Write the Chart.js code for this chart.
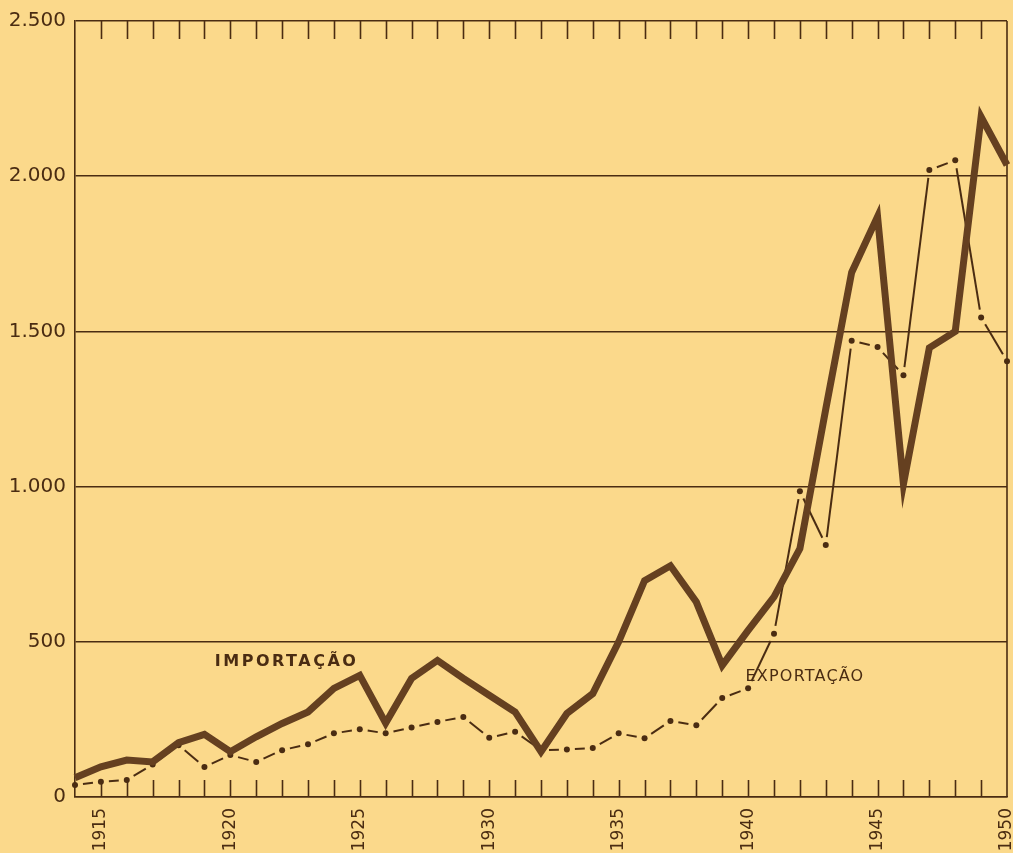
<!DOCTYPE html>
<html>
<head>
<meta charset="utf-8">
<script src="https://cdn.jsdelivr.net/npm/chart.js@4"></script>
<style>
  html, body { margin: 0; padding: 0; background: #fbd98b; }
  #wrap { position: relative; width: 1013px; height: 853px; }
</style>
</head>
<body>
<div id="wrap"><canvas id="c"></canvas></div>
<script>
// Importação x Exportação, 1914–1950
const YEARS = ["1914","1915","1916","1917","1918","1919","1920","1921","1922","1923",
  "1924","1925","1926","1927","1928","1929","1930","1931","1932","1933",
  "1934","1935","1936","1937","1938","1939","1940","1941","1942","1943",
  "1944","1945","1946","1947","1948","1949","1950"]
const IMPORTACAO = [62, 97, 119, 113, 175, 202, 146, 194, 237, 274,
  350, 392, 238, 382, 440, 382, 328, 274, 146, 269,
  333, 500, 697, 745, 628, 424, 537, 645, 800, 1250,
  1690, 1870, 1008, 1447, 1500, 2191, 2036]
const EXPORTACAO = [39, 49, 55, 105, 167, 97, 135, 113, 151, 170,
  205, 218, 205, 224, 242, 258, 191, 210, 151, 153,
  158, 205, 189, 245, 231, 319, 350, 526, 985, 812,
  1470, 1450, 1359, 2020, 2051, 1545, 1404]
const X_TICKS = ["1915","1920","1925","1930","1935","1940","1945","1950"]
const Y_TICKS = { 0: "0", 500: "500", 1000: "1.000", 1500: "1.500", 2000: "2.000", 2500: "2.500" }

const INK = "#4a2c12"
const LINE = "#654020"
const FONT = "'DejaVu Sans', sans-serif"

// marcas internas (em cima e em baixo) + borda direita + rótulos das séries
const frame = {
  id: "frame",
  beforeDatasetsDraw(chart) {
    const { ctx, chartArea: a, scales } = chart
    ctx.save()
    ctx.strokeStyle = INK
    ctx.lineWidth = 1.6
    ctx.beginPath()
    YEARS.forEach((_, i) => {
      if (i === 0 || i === YEARS.length - 1) return
      const x = Math.round(scales.x.getPixelForValue(i)) + 0.5
      ctx.moveTo(x, a.top); ctx.lineTo(x, a.top + 18)
      ctx.moveTo(x, a.bottom); ctx.lineTo(x, a.bottom - 17)
    })
    ctx.moveTo(a.right, a.top); ctx.lineTo(a.right, a.bottom)
    ctx.stroke()
    ctx.restore()
  },
  afterDatasetsDraw(chart) {
    const { ctx, scales } = chart
    ctx.save()
    ctx.fillStyle = INK
    ctx.textBaseline = "middle"
    ctx.font = `bold 16px ${FONT}`
    ctx.letterSpacing = "2.5px"
    ctx.fillText("IMPORTAÇÃO", scales.x.getPixelForValue(5.4), scales.y.getPixelForValue(434))
    ctx.font = `16px ${FONT}`
    ctx.letterSpacing = "1.2px"
    ctx.fillText("EXPORTAÇÃO", scales.x.getPixelForValue(25.9), scales.y.getPixelForValue(386))
    ctx.restore()
  },
}

// traço centrado entre os pontos (ponto – intervalo – traço – intervalo – ponto)
const GAP = 8
const segLen = (c) => Math.hypot(c.p1.x - c.p0.x, c.p1.y - c.p0.y)

new Chart(document.getElementById("c"), {
  type: "line",
  data: {
    labels: YEARS,
    datasets: [
      {
        label: "Importação",
        data: IMPORTACAO,
        borderColor: LINE,
        borderWidth: 7,
        borderJoinStyle: "miter",
        pointRadius: 0,
        tension: 0,
      },
      {
        label: "Exportação",
        data: EXPORTACAO,
        borderColor: INK,
        borderWidth: 2,
        pointRadius: 3,
        pointBackgroundColor: INK,
        pointBorderWidth: 0,
        tension: 0,
        segment: {
          borderDash: (c) => [Math.max(segLen(c) - 2 * GAP, 1), 2 * GAP],
          borderDashOffset: -GAP,
        },
      },
    ],
  },
  options: {
    responsive: true,
    maintainAspectRatio: false,
    animation: false,
    layout: { padding: { top: 19, right: 6 } },
    plugins: { legend: { display: false }, tooltip: { enabled: false } },
    scales: {
      x: {
        offset: false,
        grid: { display: false },
        border: { color: INK, width: 1.6 },
        afterFit: (s) => { s.height = 56; s.paddingLeft = 0; s.paddingRight = 0 },
        ticks: {
          autoSkip: false,
          minRotation: 90,
          maxRotation: 90,
          padding: 3,
          color: INK,
          font: { family: FONT, size: 17 },
          callback: (v) => (X_TICKS.includes(YEARS[v]) ? YEARS[v] : ""),
        },
      },
      y: {
        min: 0,
        max: 2500,
        afterFit: (s) => { s.width = 75 },
        grid: { color: INK, lineWidth: 1.6, drawTicks: false },
        border: { color: INK, width: 1.6 },
        ticks: {
          stepSize: 500,
          padding: 9,
          color: INK,
          font: { family: FONT, size: 20 },
          callback: (v) => Y_TICKS[v] ?? "",
        },
      },
    },
  },
  plugins: [frame],
})
</script>
</body>
</html>
